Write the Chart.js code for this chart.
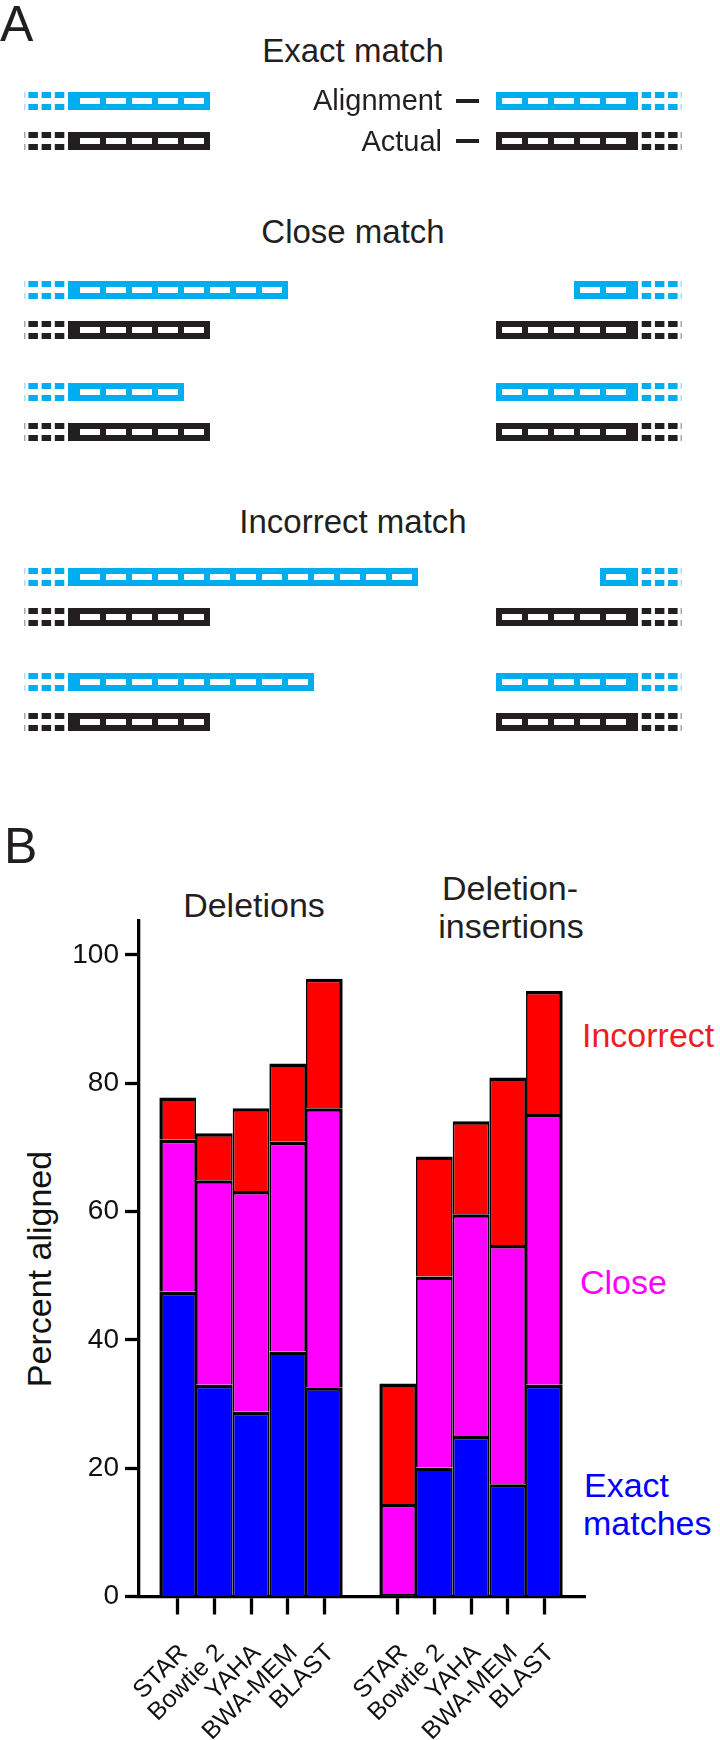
<!DOCTYPE html>
<html>
<head>
<meta charset="utf-8">
<script src="https://cdn.jsdelivr.net/npm/chart.js@4.4.1/dist/chart.umd.min.js"></script>
<style>
  body { margin: 0; background: #fff; }
  #page { position: relative; width: 720px; height: 1740px; overflow: hidden;
          font-family: 'Liberation Sans', Arial, Helvetica, sans-serif; color: #231f20; }
  .box { position: absolute; }
  .txt { position: absolute; white-space: nowrap; line-height: 1; }
  .dash { position: absolute; background: #231f20; }
</style>
</head>
<body>
<div id="page"></div>
<script>
// ---- panel A: alignment sketches (lengths in sequence segments) ----
const caseTitles = ['Exact match', 'Close match', 'Incorrect match'];
const pairCase = [0, 1, 1, 2, 2];
const rowLabels = ['Alignment', 'Actual'];
const alignLeft = [5, 8, 4, 13, 9];
const alignRight = [5, 2, 5, 1, 5];
const actualLeft = [5, 5, 5, 5, 5];
const actualRight = [5, 5, 5, 5, 5];

// ---- panel B: percent aligned ----
const tools = ['STAR', 'Bowtie 2', 'YAHA', 'BWA-MEM', 'BLAST'];
const groups = ['Deletions', 'Deletion-\ninsertions'];
const delExact = [47.5, 33.0, 28.8, 38.2, 32.6];
const delClose = [23.7, 31.9, 34.4, 32.7, 43.5];
const delIncorrect = [6.6, 7.3, 12.9, 12.2, 20.2];
const delinsExact = [0.4, 20.1, 25.0, 17.5, 33.0];
const delinsClose = [14.0, 29.8, 34.6, 37.3, 42.2];
const delinsIncorrect = [18.8, 18.7, 14.5, 26.1, 19.2];
const yTicks = [0, 20, 40, 60, 80, 100];

const CYAN = '#00aeef';
const INK = '#231f20';
const FONT = "'Liberation Sans', Arial, Helvetica, sans-serif";
Chart.defaults.font.family = FONT;

// strip geometry (px / segment units)
const UNIT_PX = 26, ORIGIN_PX = 80;
const CAP = 12 / UNIT_PX, LEAD = 44 / UNIT_PX, RIGHT_END = 21;
const BAR_H = 18, EDGE = 6, DIVIDER = 6, DASH = 9.5, GAP = 3.7;

const page = document.getElementById('page');

function addText(text, x, capY, size, color, align) {
  const d = document.createElement('div');
  d.className = 'txt';
  d.textContent = text;
  d.style.fontSize = size + 'px';
  d.style.color = color;
  d.style.left = x + 'px';
  d.style.top = (capY - 0.4885 * size) + 'px';
  if (align === 'center') d.style.transform = 'translateX(-50%)';
  if (align === 'right') d.style.transform = 'translateX(-100%)';
  page.appendChild(d);
  return d;
}

function addCanvas(top, height) {
  const box = document.createElement('div');
  box.className = 'box';
  box.style.left = '0px';
  box.style.top = top + 'px';
  box.style.width = '720px';
  box.style.height = height + 'px';
  const c = document.createElement('canvas');
  box.appendChild(c);
  page.appendChild(box);
  return c;
}

// draws the white holes of the strips and the dashed leads
const stripPlugin = {
  id: 'strip',
  afterDatasetsDraw(chart) {
    const ctx = chart.ctx;
    const xs = chart.scales.x;
    chart.data.datasets.forEach((ds, d) => {
      chart.getDatasetMeta(d).data.forEach((bar, i) => {
        const range = ds.data[i];
        if (!range) return;
        const p = bar.getProps(['x', 'y', 'base', 'height'], true);
        const top = p.y - p.height / 2, bottom = p.y + p.height / 2;
        const left = Math.min(p.x, p.base), right = Math.max(p.x, p.base);
        ctx.save();
        if (ds.part === 'solidLeft' || ds.part === 'solidRight') {
          ctx.fillStyle = '#fff';
          const from = ds.part === 'solidLeft' ? 0 : Math.round(range[0]);
          const to = ds.part === 'solidLeft' ? Math.round(range[1]) : RIGHT_END;
          for (let k = from; k < to; k++) {
            let a = xs.getPixelForValue(k), b = xs.getPixelForValue(k + 1);
            if (ds.part === 'solidLeft') b -= DIVIDER; else a += DIVIDER;
            ctx.fillRect(a, top + EDGE, b - a, p.height - 2 * EDGE);
          }
        } else {
          const col = ds.ink[i];
          ctx.fillStyle = col;
          for (let j = 0; j < 3; j++) {
            const a = ds.part === 'leadLeft'
              ? right - GAP - DASH - j * (DASH + GAP)
              : left + GAP + j * (DASH + GAP);
            ctx.fillRect(a, top, DASH, EDGE);
            ctx.fillRect(a, bottom - EDGE, DASH, EDGE);
          }
          ctx.fillStyle = col === CYAN ? '#a6e0f7' : '#a8a8a8';
          const f = ds.part === 'leadLeft' ? left : right - 1.5;
          ctx.fillRect(f, top, 1.5, EDGE);
          ctx.fillRect(f, bottom - EDGE, 1.5, EDGE);
        }
        ctx.restore();
      });
    });
  }
};

function drawPair(p, top) {
  const left = [alignLeft[p], actualLeft[p]];
  const rightLen = [alignRight[p], actualRight[p]];
  const inks = [CYAN, INK];
  const canvas = addCanvas(top, 80);
  new Chart(canvas, {
    type: 'bar',
    data: {
      labels: rowLabels,
      datasets: [
        { part: 'leadLeft', ink: inks, data: left.map(() => [-CAP - LEAD, -CAP]), backgroundColor: 'rgba(0,0,0,0)' },
        { part: 'solidLeft', data: left.map(n => [-CAP, n]), backgroundColor: inks },
        { part: 'solidRight', data: rightLen.map(n => [RIGHT_END - n, RIGHT_END + CAP]), backgroundColor: inks },
        { part: 'leadRight', ink: inks, data: rightLen.map(() => [RIGHT_END + CAP, RIGHT_END + CAP + LEAD]), backgroundColor: 'rgba(0,0,0,0)' }
      ]
    },
    options: {
      indexAxis: 'y',
      animation: false,
      responsive: true,
      maintainAspectRatio: false,
      layout: { padding: 0 },
      datasets: { bar: { grouped: false, barThickness: BAR_H, borderWidth: 0, inflateAmount: 0 } },
      plugins: { legend: { display: false }, tooltip: { enabled: false } },
      scales: {
        x: { type: 'linear', display: false, offset: false,
             min: -ORIGIN_PX / UNIT_PX, max: (720 - ORIGIN_PX) / UNIT_PX },
        y: { display: false }
      }
    },
    plugins: [stripPlugin]
  });
}

// panel A layout
addText('A', 0, 23, 50, INK, 'left');
const titleY = [50, 231, 521];
caseTitles.forEach((t, i) => addText(t, 353, titleY[i], 33, INK, 'center'));
const pairTops = [81, 270, 372, 557, 662];
pairCase.forEach((c, p) => drawPair(p, pairTops[p]));
addText(rowLabels[0], 442, 100, 29, INK, 'right');
addText(rowLabels[1], 442, 141, 29, INK, 'right');
[101, 141].forEach(y => {
  const d = document.createElement('div');
  d.className = 'dash';
  d.style.left = '456px'; d.style.top = (y - 2) + 'px';
  d.style.width = '23px'; d.style.height = '4px';
  page.appendChild(d);
});

// panel B
addText('B', 4, 845, 50, INK, 'left');
addText(groups[0], 254, 905, 34, INK, 'center');
const g2 = groups[1].split('\n');
addText(g2[0], 510, 888, 34, INK, 'center');
addText(g2[1], 511, 926, 34, INK, 'center');
addText('Incorrect', 582, 1035, 34, '#ee1d23', 'left');
addText('Close', 580, 1282, 34, '#ff00ff', 'left');
addText('Exact', 584, 1485, 34, '#0000ff', 'left');
addText('matches', 583, 1523, 34, '#0000ff', 'left');

// y axis title, rotated
const yTitle = document.createElement('div');
yTitle.className = 'txt';
yTitle.textContent = 'Percent aligned';
yTitle.style.fontSize = '34px';
yTitle.style.color = '#111';
yTitle.style.left = '38.5px';
yTitle.style.top = '1269px';
yTitle.style.transform = 'translate(-50%, -50%) rotate(-90deg)';
page.appendChild(yTitle);

const positions = tools.map((_, i) => i).concat(tools.map((_, i) => i + tools.length + 1));
function series(a, b) {
  return a.concat(b).map((v, i) => ({ x: positions[i], y: v }));
}
function toolAt(v) {
  const i = positions.indexOf(v);
  return i < 0 ? '' : tools[i % tools.length];
}

const barBorder = ctx => {
  const k = ctx.dataIndex % tools.length;
  return { top: 3.5, bottom: 0, left: k === 0 ? 3.5 : 1.75, right: k === tools.length - 1 ? 3.5 : 1.75 };
};

const resultCanvas = addCanvas(760, 980);
new Chart(resultCanvas, {
  type: 'bar',
  data: {
    datasets: [
      { label: 'Exact matches', data: series(delExact, delinsExact), backgroundColor: '#0000ff' },
      { label: 'Close', data: series(delClose, delinsClose), backgroundColor: '#ff00ff' },
      { label: 'Incorrect', data: series(delIncorrect, delinsIncorrect), backgroundColor: '#ff0000' }
    ]
  },
  options: {
    animation: false,
    responsive: true,
    maintainAspectRatio: false,
    layout: { padding: { top: 161, right: 135, left: 0, bottom: 0 } },
    datasets: { bar: { categoryPercentage: 1, barPercentage: 1, borderColor: '#000',
                       borderWidth: barBorder, borderSkipped: false, inflateAmount: 0 } },
    plugins: { legend: { display: false }, tooltip: { enabled: false } },
    scales: {
      x: {
        type: 'linear', stacked: true, offset: false, min: -1.055, max: 11.108,
        afterFit: s => { s.height = 143.5; },
        afterBuildTicks: s => { s.ticks = positions.map(v => ({ value: v })); },
        ticks: { autoSkip: false, minRotation: 45, maxRotation: 45, padding: 24, labelOffset: 6,
                 color: '#111', font: { size: 25 }, callback: v => toolAt(v) },
        grid: { offset: false, drawOnChartArea: false, drawTicks: true, tickLength: 18,
                tickWidth: 3.3, tickColor: '#000' },
        border: { display: true, color: '#000', width: 3.3 }
      },
      y: {
        stacked: true, min: 0, max: 105.3,
        afterFit: s => { s.width = 139; },
        afterBuildTicks: s => { s.ticks = yTicks.map(v => ({ value: v })); },
        ticks: { padding: 6, color: '#111', font: { size: 28 } },
        grid: { drawOnChartArea: false, drawTicks: true, tickLength: 14, tickWidth: 3.3, tickColor: '#000' },
        border: { display: true, color: '#000', width: 3.3 }
      }
    }
  }
});
</script>
</body>
</html>
